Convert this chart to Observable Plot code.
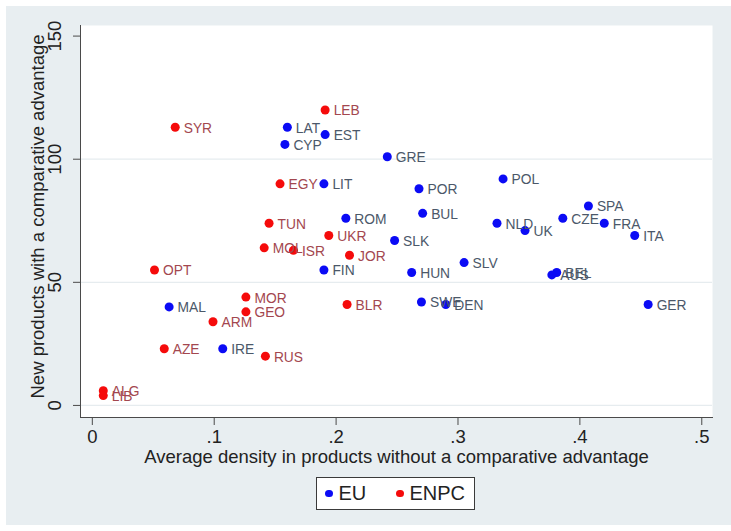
<!DOCTYPE html>
<html>
<head>
<meta charset="utf-8">
<script src="https://cdn.jsdelivr.net/npm/d3@7"></script>
<script src="https://cdn.jsdelivr.net/npm/@observablehq/plot@0.6"></script>
<style>
  html, body { margin: 0; padding: 0; background: #ffffff; }
  #panel { position: absolute; left: 6px; top: 6px; width: 725px; height: 519px; background: #e8eef1; }
  #chart { position: absolute; left: 0; top: 0; }
  #legend { position: absolute; left: 316px; top: 477px; width: 157px; height: 31px; border: 1px solid #3a3a3a; background: #fff;
            font-family: "Liberation Sans", Arial, sans-serif; font-size: 20px; color: #222; }
  #legend .item { position: absolute; top: 0; height: 31px; line-height: 31px; white-space: nowrap; }
  #legend .dot { display: inline-block; width: 7.5px; height: 7.5px; border-radius: 50%; vertical-align: middle; margin-right: 6px; position: relative; top: -1px; }
</style>
</head>
<body>
<div id="panel"></div>
<div id="chart"></div>
<div id="legend"></div>
<script>
// ---- data ----
const countries = ["SYR","LEB","LAT","EST","CYP","GRE","EGY","LIT","POR","POL","SPA","CZE","FRA","ITA","NLD","UK","BUL","ROM","TUN","UKR","MOL","ISR","JOR","SLK","SLV","HUN","BEL","AUS","OPT","FIN","MAL","MOR","GEO","BLR","SWE","DEN","GER","ARM","AZE","IRE","RUS","ALG","LIB"];
const groups    = ["ENPC","ENPC","EU","EU","EU","EU","ENPC","EU","EU","EU","EU","EU","EU","EU","EU","EU","EU","EU","ENPC","ENPC","ENPC","ENPC","ENPC","EU","EU","EU","EU","EU","ENPC","EU","EU","ENPC","ENPC","ENPC","EU","EU","EU","ENPC","ENPC","EU","ENPC","ENPC","ENPC"];
const density   = [0.068,0.191,0.160,0.191,0.158,0.242,0.154,0.190,0.268,0.337,0.407,0.386,0.420,0.445,0.332,0.355,0.271,0.208,0.145,0.194,0.141,0.165,0.211,0.248,0.305,0.262,0.381,0.377,0.051,0.190,0.063,0.126,0.126,0.209,0.270,0.290,0.456,0.099,0.059,0.107,0.142,0.009,0.009];
const newProducts = [113,120,113,110,106,101,90,90,88,92,81,76,74,69,74,71,78,76,74,69,64,63,61,67,58,54,54,53,55,55,40,44,38,41,42,41,41,34,23,23,20,6,4];
const seriesNames = ["EU","ENPC"];
const xTicks = [0, 0.1, 0.2, 0.3, 0.4, 0.5];
const yTicks = [0, 50, 100, 150];
const yGrid = [0, 50, 100];
const xTitle = "Average density in products without a comparative advantage";
const yTitle = "New products with a comparative advantage";

// ---- styles ----
const markerColor = {EU: "#0b0bf5", ENPC: "#f50b0b"};
const labelColor = {EU: "#4b5869", ENPC: "#a3474f"};

const rows = countries.map((c, i) => ({country: c, group: groups[i], x: density[i], y: newProducts[i]}));
const eu = rows.filter(d => d.group === "EU");
const enpc = rows.filter(d => d.group === "ENPC");
const fmtX = d => d === 0 ? "0" : d3.format(".1f")(d).replace(/^0/, "");

const W = 731, H = 470;
const FS = 18.5;
const chart = Plot.plot({
  width: W, height: H,
  marginLeft: 80, marginRight: 19, marginTop: 25, marginBottom: H - 417,
  style: {background: "transparent", fontFamily: "'Liberation Sans', Arial, sans-serif", fontSize: FS + "px", color: "#222"},
  x: {domain: [-0.0097, 0.5088]},
  y: {domain: [-4.9, 154.3]},
  marks: [
    Plot.frame({fill: "white", stroke: null}),
    Plot.gridY(yGrid, {stroke: "#e6ecef", strokeOpacity: 1, strokeWidth: 1.2}),
    Plot.frame({anchor: "left", stroke: "#4a4a4a"}),
    Plot.frame({anchor: "bottom", stroke: "#4a4a4a"}),
    Plot.axisX({ticks: xTicks, tickFormat: fmtX, tickSize: 8, tickPadding: 4, stroke: "#4a4a4a", fill: "#222", fontSize: FS, label: null}),
    Plot.axisY({ticks: yTicks, tickFormat: () => "", tickSize: 7, stroke: "#4a4a4a", label: null}),
    Plot.text(yTicks, {y: d => d, text: d => String(d), frameAnchor: "left", textAnchor: "middle", lineAnchor: "middle", rotate: -90, dx: -25, fill: "#222", fontSize: FS}),
    Plot.text([xTitle], {text: d => d, frameAnchor: "bottom", textAnchor: "middle", lineAnchor: "middle", dy: 40, fill: "#222", fontSize: FS}),
    Plot.text([yTitle], {text: d => d, frameAnchor: "left", textAnchor: "middle", lineAnchor: "middle", rotate: -90, dx: -42, dy: -5, fill: "#222", fontSize: FS}),
    Plot.dot(enpc, {x: "x", y: "y", r: 4.5, fill: markerColor.ENPC, stroke: null}),
    Plot.dot(eu, {x: "x", y: "y", r: 4.5, fill: markerColor.EU, stroke: null}),
    Plot.text(eu, {x: "x", y: "y", text: "country", textAnchor: "start", dx: 8.5, dy: 1, fill: labelColor.EU, fontSize: 13.8}),
    Plot.text(enpc, {x: "x", y: "y", text: "country", textAnchor: "start", dx: 8.5, dy: 1, fill: labelColor.ENPC, fontSize: 13.8})
  ]
});
document.getElementById("chart").appendChild(chart);

// legend
const legend = document.getElementById("legend");
const legendPos = {EU: 8, ENPC: 79};
seriesNames.forEach(name => {
  const item = document.createElement("div");
  item.className = "item";
  item.style.left = legendPos[name] + "px";
  const dot = document.createElement("span");
  dot.className = "dot";
  dot.style.background = markerColor[name];
  item.appendChild(dot);
  item.appendChild(document.createTextNode(name));
  legend.appendChild(item);
});
</script>
</body>
</html>
